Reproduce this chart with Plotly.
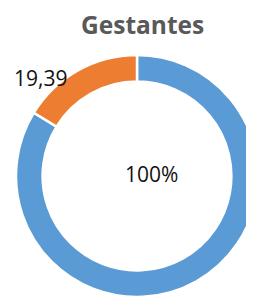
import plotly.graph_objects as go

categories = ["Gestantes", "Outro"]
values = [100, 19.39]
colors = ["#5B9BD5", "#ED7D31"]
title_text = "Gestantes"

W, H = 254, 300
OFF = 8  # default page body margin
cx, cy, R = 137 - OFF, 176 - OFF, 121

fig = go.Figure(go.Pie(
    labels=categories,
    values=values,
    hole=0.78,
    sort=False,
    direction="clockwise",
    rotation=0,
    marker=dict(colors=colors, line=dict(color="white", width=2.5)),
    textinfo="none",
    hoverinfo="label+value",
    showlegend=False,
    domain=dict(x=[(cx - R) / W, (cx + R) / W],
                y=[(H - cy - R) / H, (H - cy + R) / H]),
))

lab_orange = f"{values[1]:.2f}".replace(".", ",")
lab_blue = f"{values[0]:.0f}%"

def px(x, y):
    return (x - OFF) / W, 1 - (y - OFF) / H

ann = dict(xref="paper", yref="paper", showarrow=False,
           xanchor="center", yanchor="middle")

ox, oy = px(40, 78)
fig.add_annotation(x=ox, y=oy, text=lab_orange,
                   font=dict(family="Open Sans", size=21, color="#111111"), **ann)
bx, by = px(151, 174)
fig.add_annotation(x=bx, y=by, text=lab_blue,
                   font=dict(family="Open Sans", size=21, color="#111111"), **ann)
tx, ty = px(142, 24.5)
fig.add_annotation(x=tx, y=ty, text="<b>" + title_text + "</b>",
                   font=dict(family="Open Sans", size=24.5, color="#595959"), **ann)

fig.update_layout(width=W, height=H, margin=dict(l=0, r=0, t=0, b=0),
                  paper_bgcolor="white", plot_bgcolor="white")

fig.write_html("out.html")
